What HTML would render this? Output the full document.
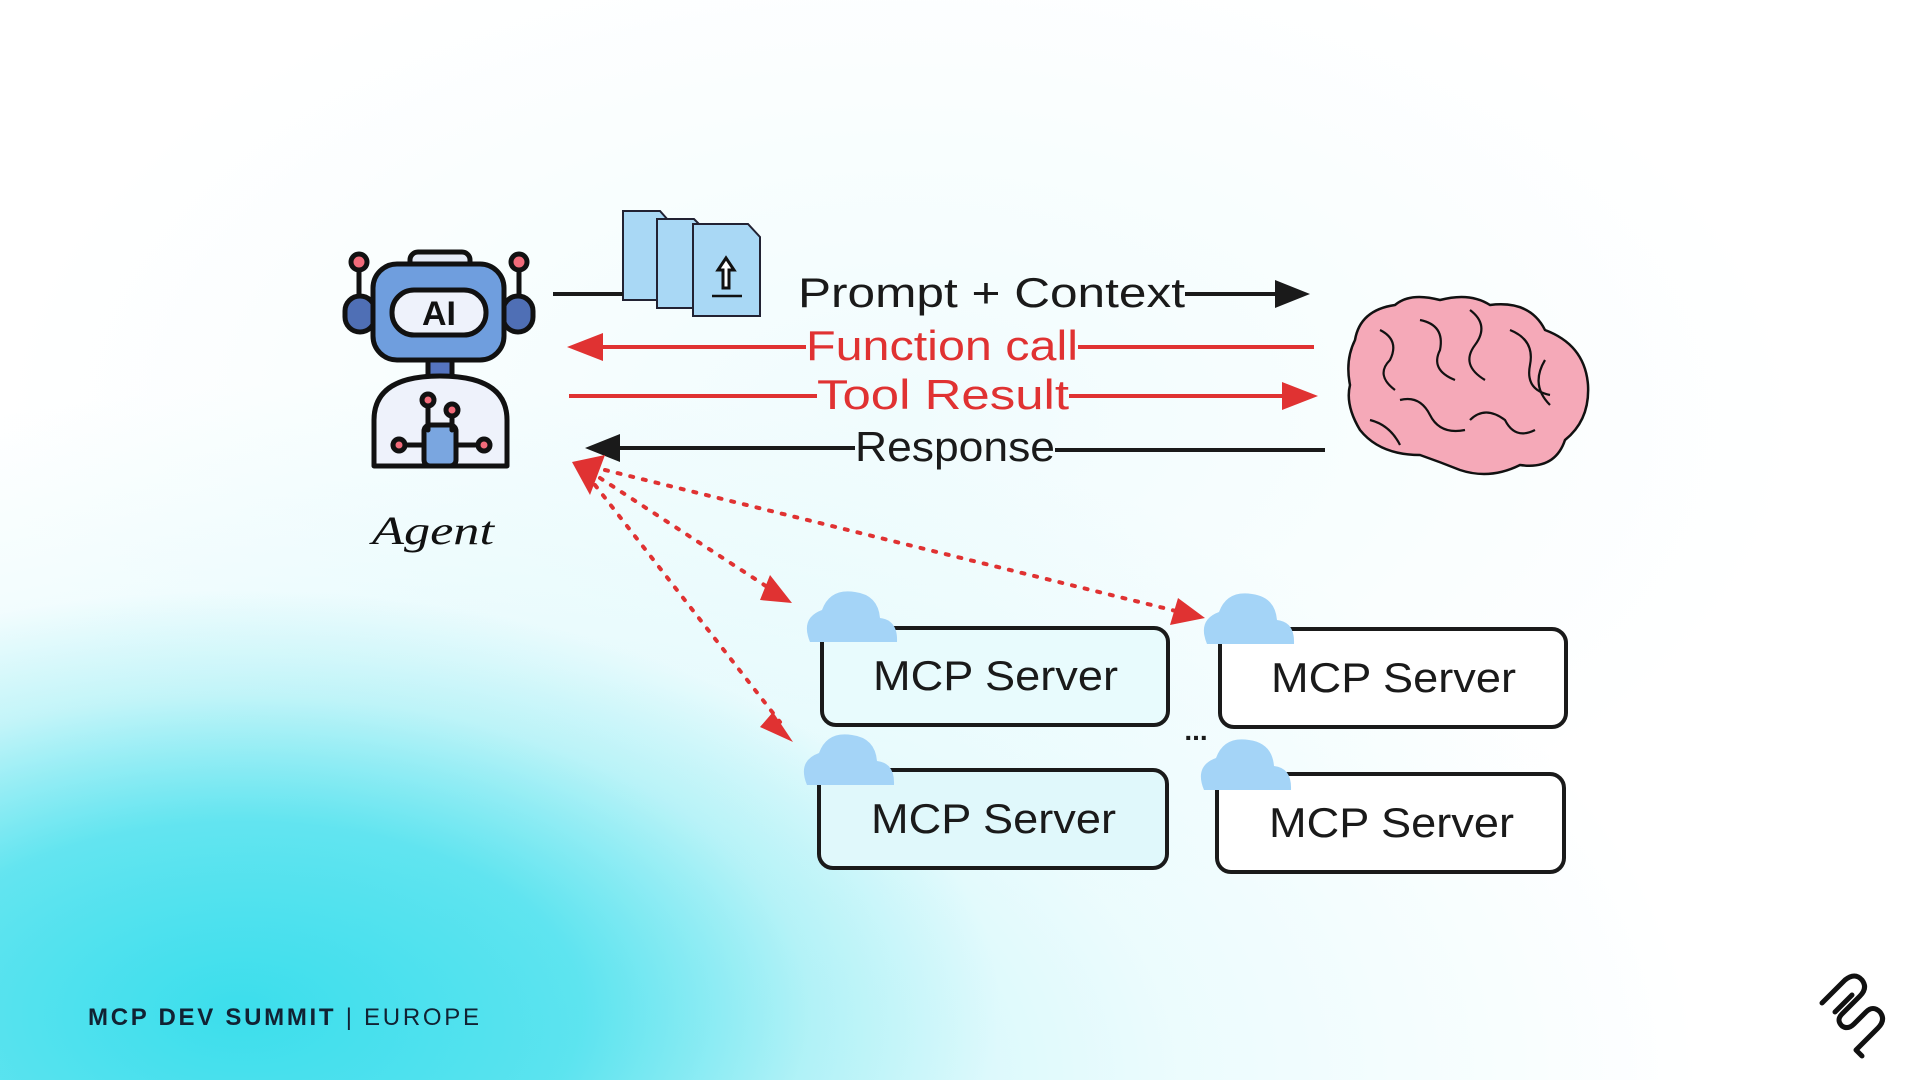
<!DOCTYPE html>
<html><head><meta charset="utf-8"><style>
html,body{margin:0;padding:0;width:1920px;height:1080px;overflow:hidden}
body{background:#fff;position:relative;font-family:"Liberation Sans",sans-serif}
.bg{position:absolute;inset:0;background:
radial-gradient(ellipse 760px 420px at 240px 1010px,rgba(60,222,236,1) 0%,rgba(60,222,236,0.75) 45%,rgba(120,232,240,0.35) 75%,rgba(255,255,255,0) 100%),
radial-gradient(ellipse 1300px 700px at 400px 1080px,rgba(140,236,244,0.7) 0%,rgba(200,245,250,0.35) 60%,rgba(255,255,255,0) 100%),
radial-gradient(ellipse 900px 500px at 900px 420px,rgba(230,250,252,0.6) 0%,rgba(255,255,255,0) 100%)}
svg{position:absolute;left:0;top:0}
.hw{font-family:"Liberation Sans",sans-serif}
</style></head><body>
<div class="bg"></div>
<svg width="1920" height="1080" viewBox="0 0 1920 1080">
<!-- robot -->
<g stroke="#111" stroke-width="5" stroke-linejoin="round" stroke-linecap="round">
<line x1="359" y1="262" x2="359" y2="300"/><line x1="519" y1="262" x2="519" y2="300"/>
<circle cx="359" cy="262" r="8" fill="#f26b7a"/><circle cx="519" cy="262" r="8" fill="#f26b7a"/>
<rect x="345" y="296" width="30" height="36" rx="15" fill="#4f6fb5"/>
<rect x="503" y="296" width="30" height="36" rx="15" fill="#4f6fb5"/>
<rect x="410" y="252" width="60" height="18" rx="8" fill="#e6ecf8"/>
<rect x="373" y="264" width="131" height="96" rx="24" fill="#6f9ede"/>
<rect x="392" y="290" width="94" height="45" rx="22" fill="#eef2fb"/>
<rect x="428" y="360" width="24" height="18" fill="#5574bf"/>
<path d="M374,466 L374,420 Q374,376 440,376 Q507,376 507,420 L507,466 Z" fill="#eef2fb"/>
<rect x="424" y="425" width="32" height="41" rx="6" fill="#7aa6e0"/>
<path d="M428,430 L428,405 M452,430 L452,415 M424,445 L405,445 M456,445 L478,445" fill="none"/>
<circle cx="428" cy="400" r="6" fill="#f26b7a"/><circle cx="452" cy="410" r="6" fill="#f26b7a"/>
<circle cx="399" cy="445" r="6" fill="#f26b7a"/><circle cx="484" cy="445" r="6" fill="#f26b7a"/>
</g>
<text x="439" y="325" font-size="34" font-weight="bold" text-anchor="middle" fill="#111">AI</text>
<text x="372" y="544" font-size="40" font-style="italic" fill="#111" font-family="Liberation Serif,serif" textLength="122" lengthAdjust="spacingAndGlyphs">Agent</text>
<!-- docs -->
<g stroke="#223" stroke-width="2" fill="#a9d8f5">
<path d="M623,211 L660,211 L668,220 L668,300 L623,300Z"/>
<path d="M657,219 L694,219 L704,229 L704,308 L657,308Z"/>
<path d="M693,224 L748,224 L760,237 L760,316 L693,316Z"/>
</g>
<g stroke="#111" stroke-width="3" fill="#fff"><path d="M726,258 L718,270 L723,270 L723,288 L729,288 L729,270 L734,270Z"/></g>
<line x1="712" y1="296" x2="742" y2="296" stroke="#111" stroke-width="2.5"/>
<!-- arrows -->
<line x1="553" y1="294" x2="623" y2="294" stroke="#1a1a1a" stroke-width="4"/>
<line x1="1185" y1="294" x2="1280" y2="294" stroke="#1a1a1a" stroke-width="4"/>
<path d="M1275,280 L1310,294 L1275,308Z" fill="#1a1a1a"/>
<text x="798" y="307" font-size="42" fill="#1a1a1a" class="hw" textLength="387" lengthAdjust="spacingAndGlyphs">Prompt + Context</text>
<line x1="600" y1="347" x2="806" y2="347" stroke="#e03232" stroke-width="4"/>
<line x1="1078" y1="347" x2="1314" y2="347" stroke="#e03232" stroke-width="4"/>
<path d="M603,333 L567,347 L603,361Z" fill="#e03232"/>
<text x="806" y="360" font-size="42" fill="#e03232" class="hw" textLength="272" lengthAdjust="spacingAndGlyphs">Function call</text>
<line x1="569" y1="396" x2="817" y2="396" stroke="#e03232" stroke-width="4"/>
<line x1="1069" y1="396" x2="1285" y2="396" stroke="#e03232" stroke-width="4"/>
<path d="M1282,382 L1318,396 L1282,410Z" fill="#e03232"/>
<text x="817" y="409" font-size="42" fill="#e03232" class="hw" textLength="252" lengthAdjust="spacingAndGlyphs">Tool Result</text>
<line x1="615" y1="448" x2="855" y2="448" stroke="#1a1a1a" stroke-width="4"/>
<line x1="1055" y1="450" x2="1325" y2="450" stroke="#1a1a1a" stroke-width="4"/>
<path d="M620,434 L585,448 L620,462Z" fill="#1a1a1a"/>
<text x="855" y="461" font-size="42" fill="#1a1a1a" class="hw" textLength="200" lengthAdjust="spacingAndGlyphs">Response</text>
<!-- brain -->
<g stroke="#111" stroke-width="2.5" fill="#f5a9b8">
<path d="M1355,340 Q1360,310 1395,305 Q1410,292 1440,300 Q1470,292 1490,305 Q1530,300 1545,330 Q1585,345 1588,385 Q1590,420 1565,440 Q1555,470 1520,465 Q1490,480 1460,470 Q1440,462 1420,455 Q1380,455 1360,430 Q1345,405 1350,385 Q1345,360 1355,340Z"/>
</g>
<g stroke="#111" stroke-width="2.2" fill="none">
<path d="M1380,330 q20,10 10,30 q-15,15 5,30"/><path d="M1420,320 q25,5 20,30 q-10,20 15,30"/>
<path d="M1470,310 q20,15 5,35 q-15,20 10,35"/><path d="M1510,330 q25,10 20,35 q-5,25 20,30"/>
<path d="M1545,360 q-15,25 5,45"/><path d="M1400,400 q20,-5 30,15 q10,20 35,15"/>
<path d="M1470,420 q15,-15 35,0 q10,20 30,10"/><path d="M1370,420 q20,5 30,25"/>
</g>
<!-- dotted -->
<g stroke="#e03232" stroke-width="4" stroke-dasharray="3,10" stroke-linecap="round" fill="none">
<line x1="600" y1="478" x2="772" y2="590"/>
<line x1="605" y1="470" x2="1180" y2="612"/>
<line x1="595" y1="485" x2="780" y2="722"/>
</g>
<path d="M572,462 L605,455 L590,495Z" fill="#e03232"/>
<path d="M770,575 L792,603 L760,600Z" fill="#e03232"/>
<path d="M1178,598 L1205,618 L1170,625Z" fill="#e03232"/>
<path d="M773,712 L793,742 L760,727Z" fill="#e03232"/>
<!-- boxes -->
<g stroke="#1a1a1a" stroke-width="4">
<rect x="822" y="628" width="346" height="97" rx="14" fill="#e8fbfd"/>
<rect x="1220" y="629" width="346" height="98" rx="14" fill="#fff"/>
<rect x="819" y="770" width="348" height="98" rx="14" fill="#e0f8fb"/>
<rect x="1217" y="774" width="347" height="98" rx="14" fill="#fff"/>
</g>
<g fill="#a4d4f7">
<path d="M810,642 Q800,618 822,610 Q830,588 855,592 Q878,595 880,618 Q898,620 897,642Z"/>
<path d="M1207,644 Q1197,620 1219,612 Q1227,590 1252,594 Q1275,597 1277,620 Q1295,622 1294,644Z"/>
<path d="M807,785 Q797,761 819,753 Q827,731 852,735 Q875,738 877,761 Q895,763 894,785Z"/>
<path d="M1204,790 Q1194,766 1216,758 Q1224,736 1249,740 Q1272,743 1274,766 Q1292,768 1291,790Z"/>
</g>
<g font-size="42" fill="#1a1a1a" class="hw">
<text x="873" y="690" textLength="245" lengthAdjust="spacingAndGlyphs">MCP Server</text>
<text x="1271" y="692" textLength="245" lengthAdjust="spacingAndGlyphs">MCP Server</text>
<text x="871" y="833" textLength="245" lengthAdjust="spacingAndGlyphs">MCP Server</text>
<text x="1269" y="837" textLength="245" lengthAdjust="spacingAndGlyphs">MCP Server</text>
</g>
<text x="1196" y="740" font-size="28" font-weight="bold" fill="#1a1a1a" text-anchor="middle">...</text>
<!-- footer -->
<text x="88" y="1025" font-size="24" fill="#123" letter-spacing="2" textLength="393" lengthAdjust="spacing"><tspan font-weight="bold">MCP DEV SUMMIT</tspan><tspan> | EUROPE</tspan></text>
<!-- logo -->
<g stroke="#111" stroke-width="5" fill="none" stroke-linecap="round" stroke-linejoin="round">
<path d="M1822,1003 L1845,980 Q1855,972 1862,980 Q1868,988 1860,996 L1842,1014 Q1836,1020 1842,1026 Q1848,1030 1854,1024 L1866,1012 Q1873,1005 1880,1012 Q1886,1020 1878,1028 L1856,1050 L1862,1056"/>
<path d="M1835,1012 L1852,995"/>
</g>
</svg>
</body></html>
